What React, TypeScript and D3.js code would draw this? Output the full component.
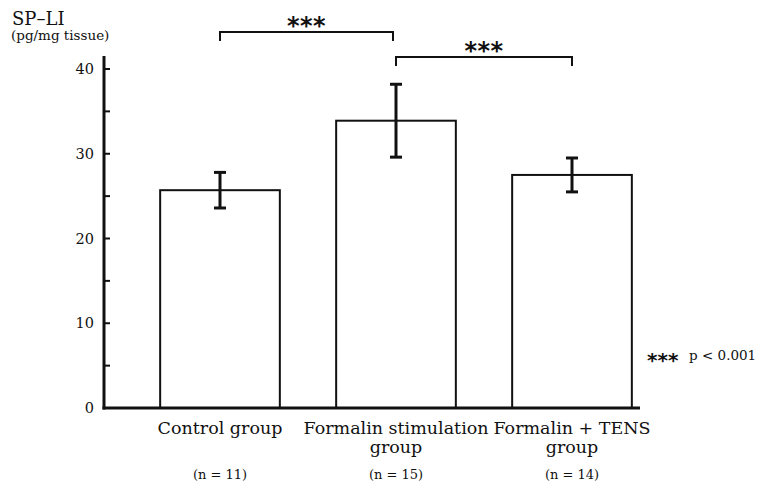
import React from "react";
import * as d3 from "d3";

const categories = ["Control group", "Formalin stimulation group", "Formalin + TENS group"];
const labelLine1 = ["Control group", "Formalin stimulation", "Formalin + TENS"];
const labelLine2 = ["", "group", "group"];
const nLabels = ["(n = 11)", "(n = 15)", "(n = 14)"];
const means = [25.7, 33.9, 27.5];
const errors = [2.1, 4.3, 2.0];
const majorTicks = [0, 10, 20, 30, 40];
const minorTicks = [5, 15, 25, 35];
const comparisons = [
  { from: 0, to: 1, level: 0, label: "***" },
  { from: 1, to: 2, level: 1, label: "***" },
];

const W = 770;
const H = 484;
const serif = "'DejaVu Serif', 'Liberation Serif', serif";

export default function App() {
  const x = d3.scaleBand<string>().domain(categories).range([132, 660]).paddingInner(0.32).paddingOuter(0.16);
  const y = d3.scaleLinear().domain([0, 40]).range([408, 69]);
  const axisX = 104;
  const bw = x.bandwidth();
  const bracketY = [32, 57];
  const legH = 9;

  return (
    <svg width={W} height={H} style={{ position: "absolute", left: 0, top: 0, background: "#fff" }} fontFamily={serif}>
      <rect x={0} y={0} width={W} height={H} fill="#fff" />
      {/* title */}
      <text x={12} y={25} fontSize={18} fill="#111">SP–LI</text>
      <text x={11} y={40} fontSize={13.5} fill="#111">(pg/mg tissue)</text>

      {/* bars */}
      {categories.map((c, i) => (
        <rect key={c} x={x(c)!} y={y(means[i])} width={bw} height={y(0) - y(means[i])}
          fill="#fff" stroke="#111" strokeWidth={2} />
      ))}

      {/* error bars */}
      {categories.map((c, i) => {
        const cx = x(c)! + bw / 2;
        const t = y(means[i] + errors[i]);
        const b = y(means[i] - errors[i]);
        return (
          <g key={"e" + c} stroke="#111" strokeWidth={3}>
            <line x1={cx} x2={cx} y1={t} y2={b} />
            <line x1={cx - 6} x2={cx + 6} y1={t} y2={t} />
            <line x1={cx - 6} x2={cx + 6} y1={b} y2={b} />
          </g>
        );
      })}

      {/* axes */}
      <line x1={axisX} x2={axisX} y1={56} y2={y(0) + 1.5} stroke="#111" strokeWidth={3} />
      <line x1={axisX - 1.5} x2={640} y1={y(0)} y2={y(0)} stroke="#111" strokeWidth={3} />
      {majorTicks.concat(minorTicks).filter(v => v > 0).map(v => (
        <line key={"t" + v} x1={axisX} x2={axisX + 6} y1={y(v)} y2={y(v)} stroke="#111" strokeWidth={2} />
      ))}
      {majorTicks.map(v => (
        <text key={"l" + v} x={94} y={y(v)} dy="0.35em" textAnchor="end" fontSize={14.5} fill="#111">{v}</text>
      ))}

      {/* category labels */}
      {categories.map((c, i) => {
        const cx = x(c)! + bw / 2;
        return (
          <g key={"c" + c} textAnchor="middle" fill="#111">
            <text x={cx} y={434} fontSize={17.5}>{labelLine1[i]}</text>
            {labelLine2[i] && <text x={cx} y={453} fontSize={17.5}>{labelLine2[i]}</text>}
            <text x={cx} y={479} fontSize={13}>{nLabels[i]}</text>
          </g>
        );
      })}

      {/* significance brackets */}
      {comparisons.map((cmp, k) => {
        const x1 = x(categories[cmp.from])! + bw / 2;
        const x2 = x(categories[cmp.to])! + bw / 2 - (k === 0 ? 3 : 0);
        const by = bracketY[cmp.level];
        return (
          <g key={"b" + k}>
            <path d={`M${x1},${by + legH} V${by} H${x2} V${by + legH}`} fill="none" stroke="#111" strokeWidth={2} />
            <text x={(x1 + x2) / 2} y={by + 2} textAnchor="middle" fontSize={24} fontWeight="bold"
              fontFamily="'DejaVu Sans', sans-serif" letterSpacing={0.5} fill="#111">{cmp.label}</text>
          </g>
        );
      })}

      {/* legend */}
      <text x={647} y={367} fontSize={20} fontWeight="bold" fontFamily="'DejaVu Sans', sans-serif" fill="#111">***</text>
      <text x={689} y={360} fontSize={13.5} fill="#111">p &lt; 0.001</text>
    </svg>
  );
}
